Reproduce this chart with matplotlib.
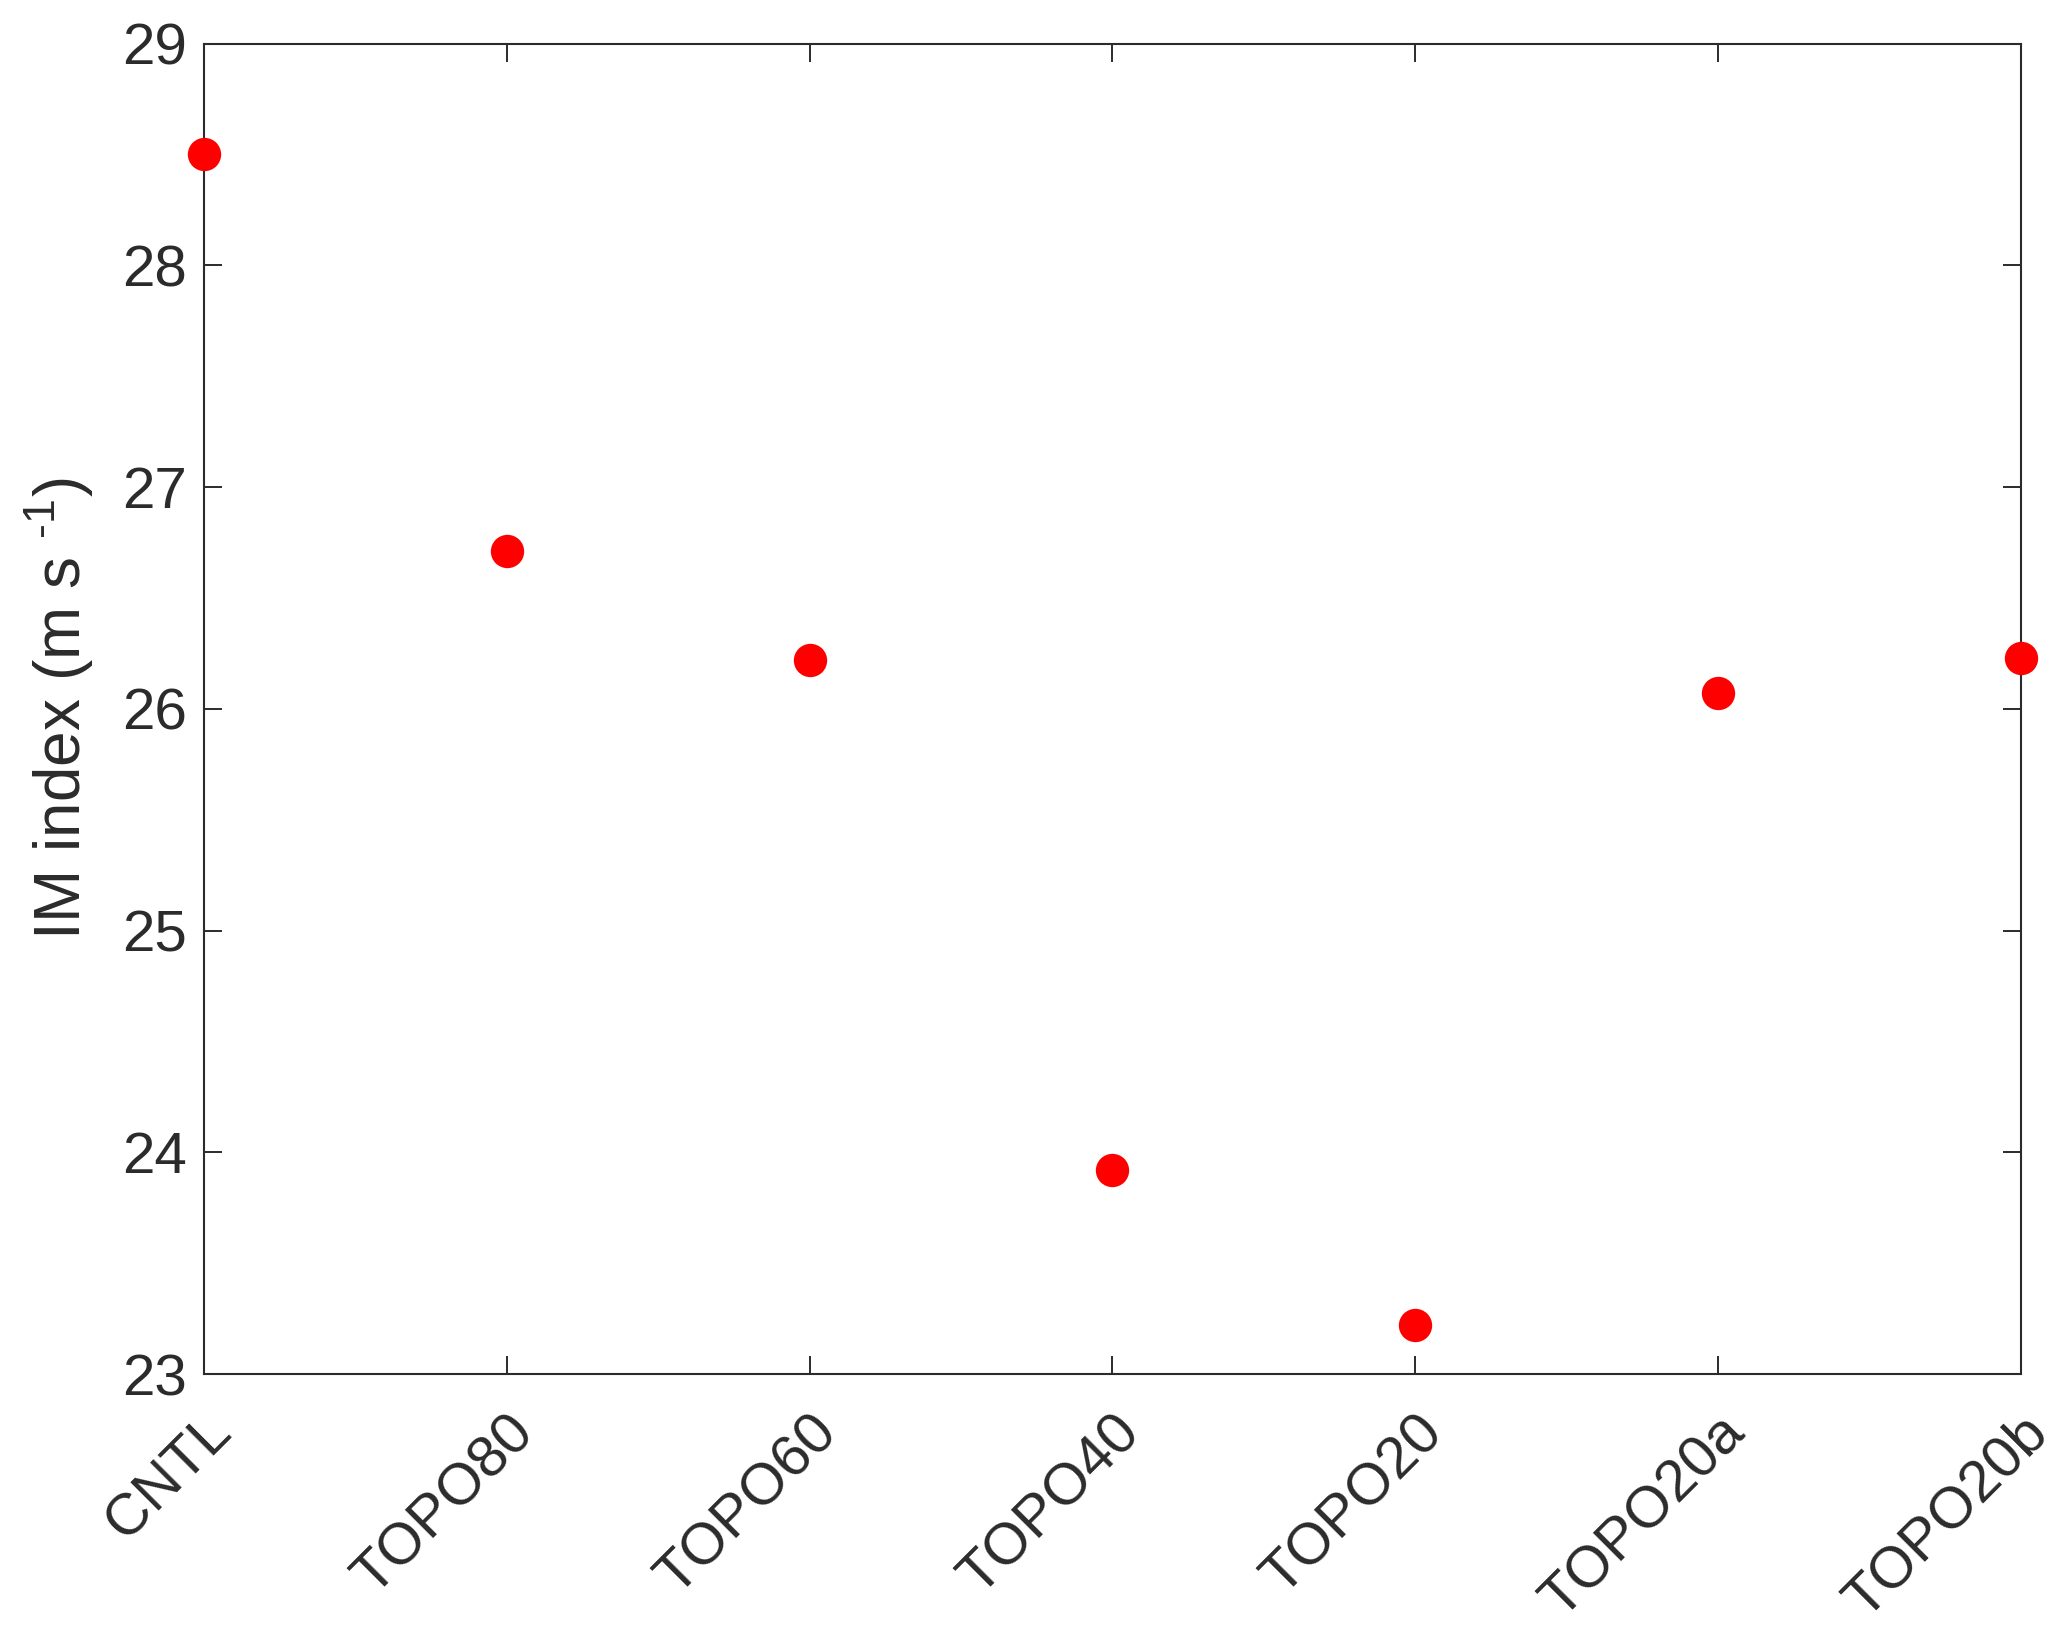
import numpy as np
import matplotlib
matplotlib.use('Agg')
import matplotlib.pyplot as plt

# experimentos y valores del indice IM
experimentos = ['CNTL', 'TOPO80', 'TOPO60', 'TOPO40', 'TOPO20', 'TOPO20a', 'TOPO20b']
im_index = [28.50, 26.71, 26.22, 23.92, 23.22, 26.07, 26.23]
yticks = [23, 24, 25, 26, 27, 28, 29]

plt.rcParams['font.family'] = ['Liberation Sans', 'DejaVu Sans']
plt.rcParams['mathtext.fontset'] = 'custom'
plt.rcParams['mathtext.rm'] = 'Liberation Sans'
gris = '#2b2b2b'

fig = plt.figure(figsize=(20.67, 16.36), dpi=100)
ax = fig.add_axes([0.0987, 0.1601, 0.879, 0.8133])

x = np.arange(len(experimentos))
ax.plot(x, im_index, 'o', color='red', markersize=24, markeredgewidth=0, clip_on=False, zorder=5)

ax.set_xlim(0, len(experimentos) - 1)
ax.set_ylim(23, 29)
ax.set_yticks(yticks)
ax.set_xticks(x)
ax.set_xticklabels(experimentos, rotation=45, ha='right', rotation_mode='anchor')

ax.tick_params(direction='in', length=13, width=1.4, colors=gris, labelsize=42,
               top=True, right=True, pad=12)
ax.tick_params(axis='x', pad=22)
for s in ax.spines.values():
    s.set_color(gris)
    s.set_linewidth(1.5)

ax.set_ylabel('IM index (m s $^{\\text{-}1}$)', fontsize=46, color=gris, labelpad=20)

fig.savefig('out.png', dpi=100)
